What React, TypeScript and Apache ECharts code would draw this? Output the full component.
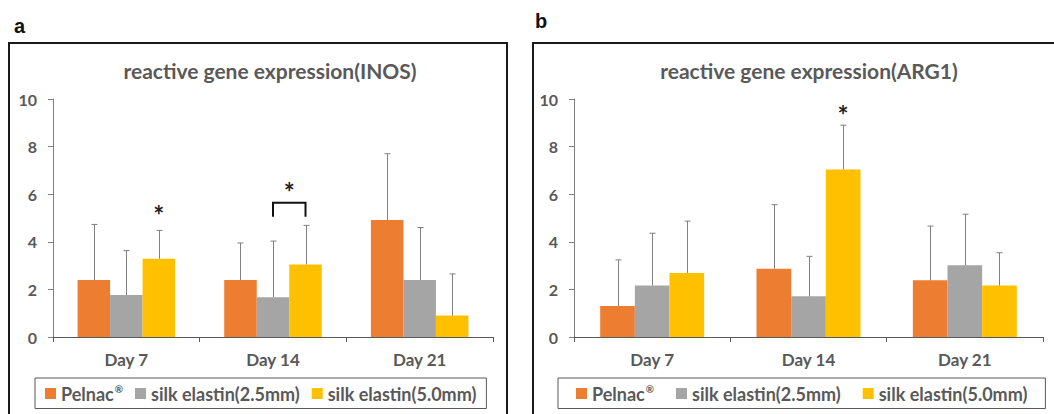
import React, { useEffect, useRef } from "react";
import * as echarts from "echarts";

const categories = ["Day 7", "Day 14", "Day 21"];
const seriesNames = ["Pelnac®", "silk elastin(2.5mm)", "silk elastin(5.0mm)"];
const colors = ["#ED7D31", "#A5A5A5", "#FFC000"];
const yTicks = [0, 2, 4, 6, 8, 10];

// INOS (panel a)
const inosPelnac = [2.39, 2.39, 4.92];
const inosPelnacSd = [2.34, 1.56, 2.78];
const inosSilk25 = [1.76, 1.67, 2.39];
const inosSilk25Sd = [1.87, 2.36, 2.21];
const inosSilk50 = [3.29, 3.05, 0.9];
const inosSilk50Sd = [1.19, 1.64, 1.75];

// ARG1 (panel b)
const argPelnac = [1.3, 2.87, 2.38];
const argPelnacSd = [1.94, 2.69, 2.28];
const argSilk25 = [2.16, 1.71, 3.01];
const argSilk25Sd = [2.2, 1.68, 2.15];
const argSilk50 = [2.69, 7.04, 2.16];
const argSilk50Sd = [2.18, 1.86, 1.38];

// significance marks: [category index, bar index, star value]
const inosStars = [[0, 2, 5.3]];
// bracket: [category index, from bar, to bar, top value, leg value, star value]
const inosBrackets = [[1, 1, 2, 5.64, 5.05, 6.26]];
const argStars = [[1, 2, 9.5]];

const GAP = 0.335;
const FONT = "Lato";
const TXT = "#595959";

export default function App() {
  const ref = useRef<HTMLDivElement>(null);
  useEffect(() => {
    document.body.style.margin = "0";
    const chart = echarts.init(ref.current!, null, { renderer: "svg" });

    const barOffset = (api: any, barIdx: number) => {
      const band = api.size([1, 0])[0];
      const bw = (band * (1 - GAP)) / 3;
      return (barIdx - 1) * bw;
    };

    const starText = (x: number, y: number) => ({
      type: "text",
      x,
      y,
      style: { text: "*", fill: "#222", font: `bold 26px ${FONT}`, align: "center", verticalAlign: "middle" },
    });

    const errSeries = (grid: number, barIdx: number, means: number[], sds: number[]) => ({
      type: "custom",
      xAxisIndex: grid,
      yAxisIndex: grid,
      silent: true,
      z: 3,
      encode: { x: 0, y: 1 },
      data: means.map((m, i) => [i, m, sds[i]]),
      renderItem: (params: any, api: any) => {
        const cat = api.value(0);
        const mean = api.value(1);
        const sd = api.value(2);
        const p0 = api.coord([cat, mean]);
        const p1 = api.coord([cat, mean + sd]);
        const x = Math.round(p0[0] + barOffset(api, barIdx)) + 0.5;
        const st = { stroke: "#808080", lineWidth: 1 };
        return {
          type: "group",
          children: [
            { type: "line", shape: { x1: x, y1: p0[1], x2: x, y2: p1[1] }, style: st },
            { type: "line", shape: { x1: x - 3, y1: p1[1], x2: x + 3, y2: p1[1] }, style: st },
          ],
        };
      },
    });

    const starSeries = (grid: number, stars: number[][], brackets: number[][]) => ({
      type: "custom",
      xAxisIndex: grid,
      yAxisIndex: grid,
      silent: true,
      z: 4,
      encode: { x: 0, y: 1 },
      data: [
        ...stars.map((s) => [s[0], s[2], s[1], 0, 0, 0, 0]),
        ...brackets.map((b) => [b[0], b[5], b[1], 1, b[2], b[3], b[4]]),
      ],
      renderItem: (params: any, api: any) => {
        const cat = api.value(0);
        const starV = api.value(1);
        const barA = api.value(2);
        const isBracket = api.value(3);
        const children: any[] = [];
        if (!isBracket) {
          const p = api.coord([cat, starV]);
          children.push(starText(p[0] + barOffset(api, barA), p[1] + 4));
        } else {
          const barB = api.value(4);
          const topV = api.value(5);
          const legV = api.value(6);
          const c = api.coord([cat, topV]);
          const leg = api.coord([cat, legV])[1];
          const xa = c[0] + barOffset(api, barA);
          const xb = c[0] + barOffset(api, barB);
          children.push({
            type: "polyline",
            shape: { points: [[xa, leg], [xa, c[1]], [xb, c[1]], [xb, leg]] },
            style: { stroke: "#111", lineWidth: 2, fill: "none" },
          });
          const ps = api.coord([cat, starV]);
          children.push(starText((xa + xb) / 2, ps[1] + 4));
        }
        return { type: "group", children };
      },
    });

    const barSeries = (grid: number, idx: number, vals: number[]) => ({
      type: "bar",
      name: seriesNames[idx],
      xAxisIndex: grid,
      yAxisIndex: grid,
      data: vals,
      barGap: "0%",
      barCategoryGap: `${GAP * 100}%`,
      itemStyle: { color: colors[idx] },
      z: 2,
    });

    const xAxis = (grid: number) => ({
      type: "category",
      gridIndex: grid,
      data: categories,
      axisLine: { lineStyle: { color: "#595959", width: 1 } },
      axisTick: { show: true, length: 5, lineStyle: { color: "#595959" } },
      axisLabel: { color: TXT, fontFamily: FONT, fontWeight: "bold", fontSize: 17, margin: 14 },
    });
    const yAxis = (grid: number) => ({
      type: "value",
      gridIndex: grid,
      min: yTicks[0],
      max: yTicks[yTicks.length - 1],
      interval: yTicks[1] - yTicks[0],
      splitLine: { show: false },
      axisLine: { show: true, lineStyle: { color: "#808080", width: 1 } },
      axisTick: { show: true, length: 5, lineStyle: { color: "#808080" } },
      axisLabel: { color: TXT, fontFamily: FONT, fontWeight: "bold", fontSize: 16, margin: 16 },
    });

    const legendCommon = {
      data: seriesNames,
      icon: "rect",
      itemWidth: 11,
      itemHeight: 11,
      borderColor: "#595959",
      borderWidth: 1,
      borderRadius: 0,
      top: 378,
      selectedMode: false,
      formatter: (name: string) =>
        name.endsWith("®") ? `{b|${name.slice(0, -1)}}{s|®}` : `{b|${name}}`,
      textStyle: {
        color: TXT,
        fontFamily: FONT,
        fontWeight: "bold",
        fontSize: 18,
        rich: {
          b: { color: TXT, fontFamily: FONT, fontWeight: "bold", fontSize: 18 },
          s: { color: TXT, fontFamily: FONT, fontWeight: "bold", fontSize: 10, padding: [0, 0, 9, 1] },
        },
      },
    };

    chart.setOption({
      animation: false,
      grid: [
        { left: 53, top: 99, width: 440, height: 238 },
        { left: 574, top: 99, width: 469, height: 238 },
      ],
      xAxis: [xAxis(0), xAxis(1)],
      yAxis: [yAxis(0), yAxis(1)],
      legend: [
        { ...legendCommon, left: 35, itemGap: 12, padding: [6, 10, 6, 10] },
        { ...legendCommon, left: 558, itemGap: 22, padding: [6, 18, 6, 18] },
      ],
      graphic: [
        { type: "rect", shape: { x: 9, y: 43, width: 498, height: 390 }, style: { fill: "none", stroke: "#1a1a1a", lineWidth: 2 }, silent: true },
        { type: "rect", shape: { x: 533, y: 43, width: 600, height: 390 }, style: { fill: "none", stroke: "#1a1a1a", lineWidth: 2 }, silent: true },
        { type: "text", x: 14, y: 26, style: { text: "a", font: "bold 20px 'Liberation Sans'", fill: "#111", verticalAlign: "middle" } },
        { type: "text", x: 535, y: 21, style: { text: "b", font: "bold 20px 'Liberation Sans'", fill: "#111", verticalAlign: "middle" } },
        { type: "text", x: 270, y: 70, style: { text: "reactive gene expression(INOS)", font: `bold 21px ${FONT}`, fill: TXT, align: "center", verticalAlign: "middle" } },
        { type: "text", x: 809, y: 70, style: { text: "reactive gene expression(ARG1)", font: `bold 21px ${FONT}`, fill: TXT, align: "center", verticalAlign: "middle" } },
      ],
      series: [
        barSeries(0, 0, inosPelnac),
        barSeries(0, 1, inosSilk25),
        barSeries(0, 2, inosSilk50),
        barSeries(1, 0, argPelnac),
        barSeries(1, 1, argSilk25),
        barSeries(1, 2, argSilk50),
        errSeries(0, 0, inosPelnac, inosPelnacSd),
        errSeries(0, 1, inosSilk25, inosSilk25Sd),
        errSeries(0, 2, inosSilk50, inosSilk50Sd),
        errSeries(1, 0, argPelnac, argPelnacSd),
        errSeries(1, 1, argSilk25, argSilk25Sd),
        errSeries(1, 2, argSilk50, argSilk50Sd),
        starSeries(0, inosStars, inosBrackets),
        starSeries(1, argStars, []),
      ],
    });
    return () => chart.dispose();
  }, []);
  return <div ref={ref} style={{ width: 1054, height: 414 }} />;
}
